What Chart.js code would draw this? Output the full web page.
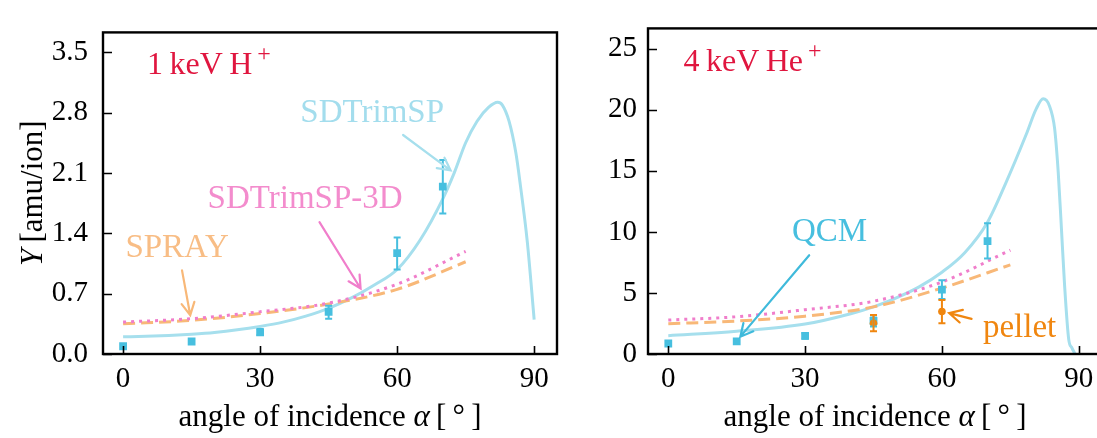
<!DOCTYPE html>
<html>
<head>
<meta charset="utf-8">
<script src="https://cdn.jsdelivr.net/npm/chart.js@4.4.1/dist/chart.umd.min.js"></script>
<style>
  html, body { margin: 0; padding: 0; background: #fff; overflow: hidden; }
  #wrap { position: relative; width: 1097px; height: 438px; overflow: hidden; }
  canvas { position: absolute; top: 0; }
  #yield-h { left: 0; }
  #yield-he { left: 580px; }
</style>
</head>
<body>
<div id="wrap">
  <canvas id="yield-h" width="580" height="438"></canvas>
  <canvas id="yield-he" width="540" height="438"></canvas>
</div>
<script>
// ---- data: sputter yield vs. angle of incidence ----
const xTicks = [0, 30, 60, 90];
const hYTicks = [0, 0.7, 1.4, 2.1, 2.8, 3.5];
const heYTicks = [0, 5, 10, 15, 20, 25];

// SDTrimSP (full angular scan)
const hSimAngles = [0, 5, 10, 15, 20, 25, 30, 35, 40, 45, 50, 55, 60, 65, 70, 72.5, 75, 77.5, 80, 82, 83, 84.5, 86, 87, 88.5, 90];
const hSdtrim = [0.20, 0.205, 0.215, 0.23, 0.25, 0.28, 0.32, 0.37, 0.44, 0.53, 0.65, 0.80, 0.98, 1.32, 1.80, 2.10, 2.45, 2.70, 2.86, 2.92, 2.89, 2.70, 2.33, 1.95, 1.30, 0.40];
const heSimAngles = [0, 15, 30, 40, 45, 50, 55, 60, 65, 70, 74, 78.5, 80.7, 82.2, 83.6, 84.7, 85.5, 86.2, 86.9, 87.8, 88.5, 89.2];
const heSdtrim = [1.5, 1.86, 2.45, 3.3, 3.86, 4.6, 5.5, 6.7, 8.3, 10.8, 14.0, 18.0, 20.1, 20.9, 20.3, 18.5, 14.9, 10.3, 5.6, 1.2, 0.5, 0];

// SPRAY and SDTrimSP-3D (rough surface)
const roughAngles = [0, 15, 30, 45, 60, 75];
const hSpray = [0.35, 0.39, 0.47, 0.58, 0.75, 1.07];
const hSdtrim3d = [0.37, 0.41, 0.49, 0.59, 0.81, 1.19];
const heSpray = [2.48, 2.7, 3.1, 3.86, 5.4, 7.3];
const heSdtrim3d = [2.78, 3.05, 3.63, 4.32, 5.9, 8.5];

// QCM measurements
const qcmAngles = [0, 15, 30, 45, 60, 70];
const hQcm = [0.09, 0.145, 0.25, 0.49, 1.17, 1.94];
const hQcmLow = [0.09, 0.145, 0.22, 0.41, 0.98, 1.63];
const hQcmHigh = [0.09, 0.145, 0.29, 0.56, 1.35, 2.25];
const heQcm = [0.86, 1.04, 1.48, 2.71, 5.27, 9.25];
const heQcmLow = [0.86, 1.04, 1.25, 2.25, 4.5, 7.83];
const heQcmHigh = [0.86, 1.04, 1.7, 3.15, 6.04, 10.7];

// pellet measurements (He only)
const pelletAngles = [45, 60];
const hePellet = [2.52, 3.48];
const hePelletLow = [1.86, 2.52];
const hePelletHigh = [3.2, 4.42];

// ---- styling ----
const SERIF = '"Liberation Serif", "DejaVu Serif", serif';
const crimson = '#e0163f';
const cyan = '#47bfdf';
const sky = '#a6dfed';
const skyText = '#a3dded';
const orangeLight = '#f8b878';
const orangeText = '#f8bd85';
const pink = '#f07ecb';
const pinkText = '#f38ccd';
const pellet = '#f0860f';

const font = (size, italic) => (italic ? 'italic ' : '') + size + 'px ' + SERIF;
const pts = (xs, ys) => xs.map((x, i) => ({ x: x, y: ys[i] }));

function lineSet(xs, ys, color, dash) {
  return {
    data: pts(xs, ys), showLine: true, pointRadius: 0, borderColor: color,
    borderWidth: 3, borderDash: dash || [], borderCapStyle: 'butt',
    cubicInterpolationMode: 'monotone', fill: false
  };
}

function markerSet(xs, ys, color, style, r) {
  return {
    data: pts(xs, ys), showLine: false, pointStyle: style, pointRadius: r,
    pointBackgroundColor: color, pointBorderColor: color, pointBorderWidth: 0
  };
}

// draws a run of text pieces (for italics and superscripts)
function drawRuns(ctx, runs, x, y, align) {
  let total = 0;
  runs.forEach(r => { ctx.font = font(r.size, r.italic); total += ctx.measureText(r.text).width + (r.dx || 0); });
  let cx = align === 'center' ? x - total / 2 : x;
  runs.forEach(r => {
    ctx.font = font(r.size, r.italic);
    cx += r.dx || 0;
    ctx.fillText(r.text, cx, y + (r.dy || 0));
    cx += ctx.measureText(r.text).width;
  });
}

function arrow(ctx, x1, y1, x2, y2, color) {
  const a = Math.atan2(y2 - y1, x2 - x1);
  const len = 14, spread = 0.48;
  ctx.save();
  ctx.strokeStyle = color;
  ctx.lineWidth = 2.2;
  ctx.lineCap = 'round';
  ctx.beginPath();
  ctx.moveTo(x1, y1);
  ctx.lineTo(x2, y2);
  ctx.moveTo(x2 - len * Math.cos(a - spread), y2 - len * Math.sin(a - spread));
  ctx.lineTo(x2, y2);
  ctx.lineTo(x2 - len * Math.cos(a + spread), y2 - len * Math.sin(a + spread));
  ctx.stroke();
  ctx.restore();
}

// box around the plot area and inward ticks
const framePlugin = {
  id: 'frame',
  afterDraw(chart) {
    const { ctx, chartArea: a, scales } = chart;
    ctx.save();
    ctx.strokeStyle = '#000';
    ctx.lineWidth = 1.6;
    ctx.beginPath();
    scales.x.ticks.forEach(t => {
      const px = Math.round(scales.x.getPixelForValue(t.value)) + 0.5;
      ctx.moveTo(px, a.bottom);
      ctx.lineTo(px, a.bottom - 8);
    });
    scales.y.ticks.forEach(t => {
      const py = Math.round(scales.y.getPixelForValue(t.value)) + 0.5;
      ctx.moveTo(a.left, py);
      ctx.lineTo(a.left + 9, py);
    });
    ctx.stroke();
    ctx.lineWidth = 2.4;
    ctx.strokeRect(a.left, a.top, a.right - a.left, a.bottom - a.top);
    ctx.restore();
  }
};

// vertical error bars with caps
const errorBarPlugin = {
  id: 'errorBars',
  afterDatasetsDraw(chart) {
    const { ctx, scales } = chart;
    const bars = chart.options.plugins.errorBars.sets || [];
    ctx.save();
    ctx.lineWidth = 2;
    bars.forEach(b => {
      ctx.strokeStyle = b.color;
      b.x.forEach((xv, i) => {
        if (b.high[i] === b.low[i]) return;
        const px = scales.x.getPixelForValue(xv);
        const top = scales.y.getPixelForValue(b.high[i]);
        const bot = scales.y.getPixelForValue(b.low[i]);
        ctx.beginPath();
        ctx.moveTo(px, top); ctx.lineTo(px, bot);
        ctx.moveTo(px - 3.5, top); ctx.lineTo(px + 3.5, top);
        ctx.moveTo(px - 3.5, bot); ctx.lineTo(px + 3.5, bot);
        ctx.stroke();
      });
    });
    ctx.restore();
  }
};

// labels, arrows and axis titles
const notesPlugin = {
  id: 'notes',
  afterDraw(chart) {
    const { ctx, chartArea: a, scales } = chart;
    const opts = chart.options.plugins.notes;
    ctx.save();
    ctx.textBaseline = 'alphabetic';
    opts.texts.forEach(t => {
      ctx.fillStyle = t.color;
      drawRuns(ctx, t.runs, scales.x.getPixelForValue(t.x), scales.y.getPixelForValue(t.y), 'left');
    });
    opts.arrows.forEach(r => {
      arrow(ctx,
        scales.x.getPixelForValue(r.from[0]), scales.y.getPixelForValue(r.from[1]),
        scales.x.getPixelForValue(r.to[0]), scales.y.getPixelForValue(r.to[1]), r.color);
    });
    ctx.fillStyle = '#000';
    drawRuns(ctx, [
      { text: 'angle of incidence ', size: 31 },
      { text: 'α', size: 31, italic: true },
      { text: '\u2009[\u2009°\u2009]', size: 31 }
    ], (a.left + a.right) / 2, 426, 'center');
    if (opts.yTitle) {
      ctx.save();
      ctx.translate(42, (a.top + a.bottom) / 2);
      ctx.rotate(-Math.PI / 2);
      drawRuns(ctx, [
        { text: 'Y', size: 31, italic: true },
        { text: '\u2009[amu/ion]', size: 31 }
      ], 0, 0, 'center');
      ctx.restore();
    }
    ctx.restore();
  }
};

function makePanel(canvas, p) {
  return new Chart(canvas, {
    type: 'scatter',
    data: { datasets: p.datasets },
    options: {
      responsive: false,
      animation: false,
      events: [],
      layout: { padding: { top: 8, right: p.padRight, left: 0, bottom: 0 } },
      plugins: {
        legend: { display: false },
        tooltip: { enabled: false },
        errorBars: { sets: p.errorBars },
        notes: { texts: p.texts, arrows: p.arrows, yTitle: p.yTitle }
      },
      scales: {
        x: {
          type: 'linear', min: p.xMin, max: p.xMax,
          afterBuildTicks: s => { s.ticks = xTicks.map(v => ({ value: v })); },
          afterFit: s => { s.height = 84; },
          grid: { display: false, drawTicks: false },
          border: { display: false },
          ticks: { font: { family: SERIF, size: 29 }, color: '#000', padding: 8, maxRotation: 0, autoSkip: false }
        },
        y: {
          type: 'linear', min: 0, max: p.yMax,
          afterBuildTicks: s => { s.ticks = p.yTicks.map(v => ({ value: v })); },
          afterFit: s => { s.width = p.yWidth; },
          grid: { display: false, drawTicks: false },
          border: { display: false },
          ticks: { font: { family: SERIF, size: 29 }, color: '#000', padding: p.yPad, autoSkip: false, callback: p.yFormat }
        }
      }
    },
    plugins: [framePlugin, errorBarPlugin, notesPlugin]
  });
}

function drawAll() {
  makePanel(document.getElementById('yield-h'), {
    xMin: -4.4, xMax: 95, yMax: 3.73, yTicks: hYTicks, yWidth: 103, yPad: 15, padRight: 23,
    yFormat: v => v.toFixed(1), yTitle: true,
    datasets: [
      markerSet(qcmAngles, hQcm, cyan, 'rect', 5.5),
      lineSet(roughAngles, hSdtrim3d, pink, [3, 5]),
      lineSet(roughAngles, hSpray, orangeLight, [12, 6]),
      lineSet(hSimAngles, hSdtrim, sky)
    ],
    errorBars: [{ x: qcmAngles, low: hQcmLow, high: hQcmHigh, color: cyan }],
    texts: [
      { x: 5.25, y: 3.25, color: crimson, runs: [{ text: '1\u2009keV\u2009H', size: 32 }, { text: '+', size: 24, dx: 5, dy: -13 }] },
      { x: 38.8, y: 2.69, color: skyText, runs: [{ text: 'SDTrimSP', size: 33 }] },
      { x: 18.5, y: 1.69, color: pinkText, runs: [{ text: 'SDTrimSP-3D', size: 33 }] },
      { x: 0.5, y: 1.13, color: orangeText, runs: [{ text: 'SPRAY', size: 33 }] }
    ],
    arrows: [
      { from: [61.3, 2.54], to: [71.7, 2.13], color: sky },
      { from: [43.0, 1.53], to: [52.0, 0.76], color: pink },
      { from: [12.9, 0.97], to: [14.7, 0.45], color: orangeLight }
    ]
  });

  makePanel(document.getElementById('yield-he'), {
    xMin: -4.45, xMax: 95.1, yMax: 26.67, yTicks: heYTicks, yWidth: 68, yPad: 11, padRight: 18,
    yFormat: v => String(v), yTitle: false,
    datasets: [
      markerSet(pelletAngles, hePellet, pellet, 'circle', 3.8),
      markerSet(qcmAngles, heQcm, cyan, 'rect', 5.5),
      lineSet(roughAngles, heSdtrim3d, pink, [3, 5]),
      lineSet(roughAngles, heSpray, orangeLight, [12, 6]),
      lineSet(heSimAngles, heSdtrim, sky)
    ],
    errorBars: [
      { x: qcmAngles, low: heQcmLow, high: heQcmHigh, color: cyan },
      { x: pelletAngles, low: hePelletLow, high: hePelletHigh, color: pellet }
    ],
    texts: [
      { x: 3.35, y: 23.2, color: crimson, runs: [{ text: '4\u2009keV\u2009He', size: 32 }, { text: '+', size: 24, dx: 5, dy: -13 }] },
      { x: 27.1, y: 9.25, color: cyan, runs: [{ text: 'QCM', size: 33 }] },
      { x: 69.0, y: 1.42, color: pellet, runs: [{ text: 'pellet', size: 33 }] }
    ],
    arrows: [
      { from: [30.9, 8.09], to: [15.8, 1.42], color: '#3fbadb' },
      { from: [66.5, 2.88], to: [61.6, 3.35], color: pellet }
    ]
  });
}

// make sure the serif face is ready before the canvases are painted
Promise.all([
  document.fonts.load('29px "Liberation Serif"'),
  document.fonts.load('italic 31px "Liberation Serif"')
]).catch(() => {}).then(drawAll);
</script>
</body>
</html>
